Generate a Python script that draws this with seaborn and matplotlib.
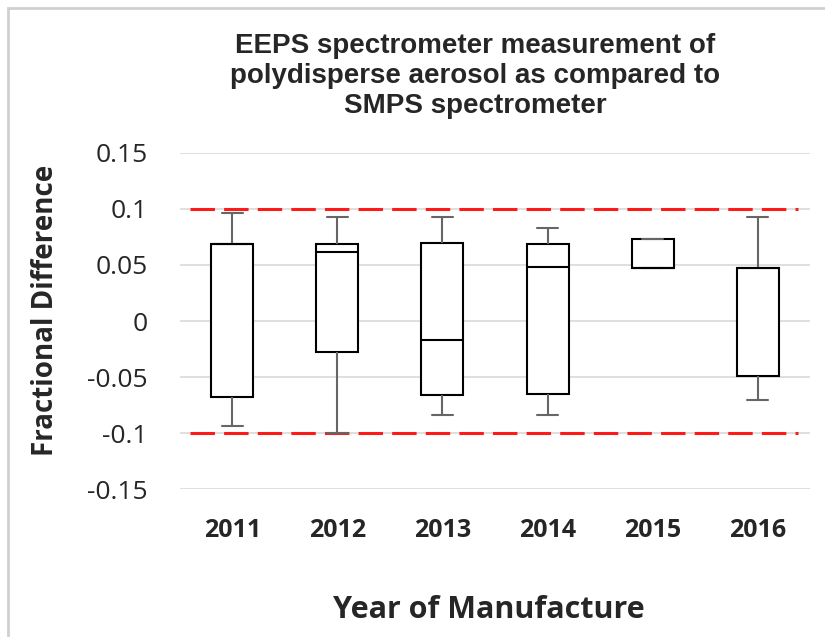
import pandas as pd
import matplotlib.pyplot as plt
import seaborn as sns
from matplotlib.patches import Rectangle

# ── Data: five-number summary (min, Q1, median, Q3, max) ──
years = ['2011', '2012', '2013', '2014', '2015', '2016']
low = [-0.0936, -0.0997, -0.0834, -0.0834, 0.0477, -0.0700]
q1 = [-0.0675, -0.0276, -0.0656, -0.0647, 0.0477, -0.0490]
median = [0.0683, 0.0620, -0.0169, 0.0484, 0.0477, 0.0477]
q3 = [0.0683, 0.0686, 0.0695, 0.0686, 0.0730, 0.0477]
high = [0.0960, 0.0926, 0.0926, 0.0834, 0.0730, 0.0926]
limit = 0.1

# long-form table: five points per year reproduce the quartiles exactly
rows = []
for i, yr in enumerate(years):
    for v in (low[i], q1[i], median[i], q3[i], high[i]):
        rows.append({'year': yr, 'frac_diff': v})
df = pd.DataFrame(rows)

sns.set_theme(style="white")
plt.rcParams['font.family'] = ['Open Sans', 'DejaVu Sans']

fig = plt.figure(figsize=(8.25, 6.37), dpi=100)
ax = fig.add_axes([0.218, 0.232, 0.764, 0.528])

sns.boxplot(
    data=df, x='year', y='frac_diff', order=years, ax=ax,
    width=0.4, whis=(0, 100), fill=True, color='white', linecolor='black',
    linewidth=1.5, showfliers=False,
    boxprops={'facecolor': 'white', 'edgecolor': 'black'},
    whiskerprops={'color': '#666666'},
    capprops={'color': '#666666'},
    medianprops={'color': 'black'},
)

# ±10 % acceptance limits
for y in (limit, -limit):
    ax.hlines(y, -0.4, 5.38, colors='#ff1a1a', linestyles=(0, (8, 3)), lw=2.2, zorder=1)

ax.set_xlim(-0.5, 5.5)
ax.set_ylim(-0.15, 0.15)
ax.set_yticks([-0.15, -0.1, -0.05, 0, 0.05, 0.1, 0.15])
ax.set_yticklabels(['-0.15', '-0.1', '-0.05', '0', '0.05', '0.1', '0.15'])
ax.yaxis.grid(True, color='#d9d9d9', lw=1.2)
ax.set_axisbelow(True)
for s in ax.spines.values():
    s.set_visible(False)
ax.tick_params(axis='y', length=0, pad=23, labelsize=19, labelcolor='#262626')
ax.tick_params(axis='x', length=0, pad=21, labelsize=18)
for lab in ax.get_xticklabels():
    lab.set_fontweight('bold')

ax.set_xlabel('Year of Manufacture', fontsize=22, fontweight='bold')
ax.xaxis.set_label_coords(0.49, -0.315)
ax.set_ylabel('Fractional Difference', fontsize=20, fontweight='bold')
ax.yaxis.set_label_coords(-0.19, 0.533)

fig.text(0.576, 0.881,
         'EEPS spectrometer measurement of\npolydisperse aerosol as compared to\nSMPS spectrometer',
         ha='center', va='center', fontsize=20, fontweight='bold', linespacing=1.2,
         family=['Liberation Sans Narrow', 'Liberation Sans', 'DejaVu Sans'])

# light chart-area frame as in the original export
fig.patches.append(Rectangle((8 / 825, -0.05), 1.1, 1.05 - 8 / 637,
                             transform=fig.transFigure, fill=False,
                             edgecolor='#d0d0d0', lw=2))

fig.savefig('out.png', dpi=100)
